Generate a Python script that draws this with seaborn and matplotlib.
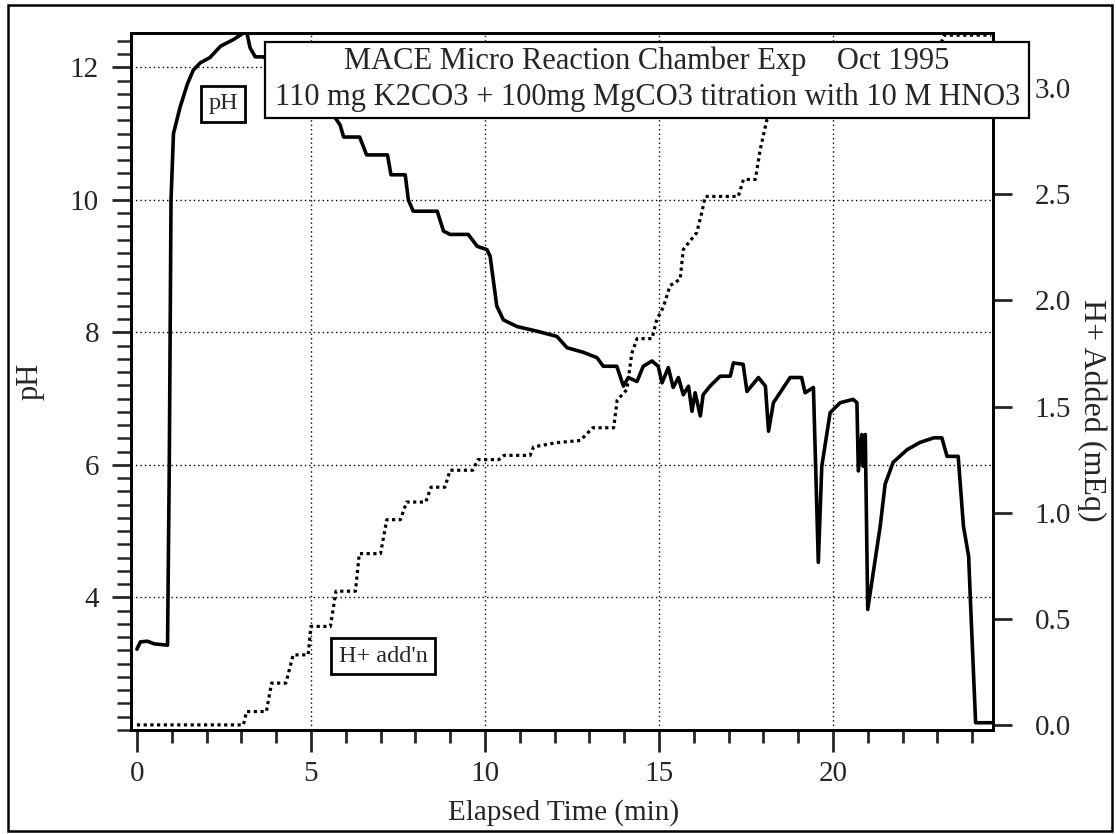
import matplotlib
matplotlib.use("Agg")
import matplotlib.pyplot as plt
import seaborn as sns
from matplotlib.patches import Rectangle
from matplotlib.ticker import MultipleLocator, FormatStrFormatter

# pH trace (time in min)
t_ph = [0.0, 0.1, 0.3, 0.5, 0.88, 0.93, 0.98, 1.05, 1.24, 1.45, 1.62, 1.82, 2.1, 2.4, 2.77,
        3.15, 3.25, 3.4, 3.63, 4.5, 5.3, 5.84, 5.94, 6.4, 6.6, 7.2, 7.3, 7.71, 7.8, 7.94,
        8.63, 8.81, 9.0, 9.52, 9.78, 10.06, 10.15, 10.34, 10.53, 10.92, 11.49, 12.07, 12.36,
        12.83, 13.22, 13.4, 13.79, 13.98, 14.12, 14.37, 14.55, 14.8, 14.98, 15.09, 15.27,
        15.41, 15.56, 15.7, 15.85, 15.95, 16.04, 16.19, 16.27, 16.47, 16.76, 17.05, 17.14,
        17.42, 17.53, 17.86, 18.06, 18.15, 18.29, 18.77, 19.1, 19.2, 19.44, 19.58, 19.68,
        19.92, 20.21, 20.58, 20.69, 20.73, 20.83, 20.87, 20.93, 21.0, 21.36, 21.5, 21.73,
        22.13, 22.5, 22.9, 23.13, 23.28, 23.6, 23.75, 23.9, 23.95, 24.1, 24.55]
ph_vals = [3.22, 3.33, 3.34, 3.30, 3.28, 6.0, 10.0, 11.0, 11.4, 11.75, 11.96, 12.07, 12.15,
           12.32, 12.42, 12.55, 12.3, 12.16, 12.16, 11.9, 11.55, 11.13, 10.95, 10.95, 10.68,
           10.68, 10.38, 10.38, 10.0, 9.83, 9.83, 9.53, 9.48, 9.48, 9.30, 9.25, 9.15, 8.40,
           8.19, 8.09, 8.02, 7.94, 7.77, 7.70, 7.62, 7.49, 7.49, 7.19, 7.32, 7.26, 7.49, 7.57,
           7.49, 7.24, 7.47, 7.17, 7.32, 7.06, 7.19, 6.81, 7.09, 6.74, 7.06, 7.19, 7.34, 7.34,
           7.54, 7.52, 7.11, 7.32, 7.19, 6.51, 6.94, 7.32, 7.32, 7.09, 7.17, 4.53, 5.98, 6.79,
           6.94, 6.99, 6.94, 5.91, 6.46, 5.98, 6.46, 3.82, 5.08, 5.71, 6.04, 6.23, 6.34, 6.41,
           6.41, 6.13, 6.13, 5.08, 4.62, 3.97, 2.11, 2.11]

# H+ added (mEq)
t_h = [0.0, 3.06, 3.15, 3.72, 3.87, 4.28, 4.49, 4.92, 5.0, 5.56, 5.72, 6.28, 6.39, 7.0,
       7.18, 7.57, 7.75, 8.3, 8.45, 8.85, 9.0, 9.65, 9.8, 10.4, 10.55, 11.3, 11.4, 12.07,
       12.74, 13.1, 13.7, 13.8, 14.08, 14.22, 14.37, 14.8, 14.94, 15.13, 15.32, 15.61, 15.7,
       16.09, 16.24, 16.33, 17.28, 17.43, 17.77, 17.91, 18.1, 19.0, 20.0, 21.0, 22.0, 23.1,
       23.2, 24.55]
h_vals = [0.0, 0.0, 0.063, 0.063, 0.197, 0.197, 0.33, 0.33, 0.464, 0.464, 0.63, 0.63, 0.807,
          0.807, 0.967, 0.967, 1.05, 1.05, 1.12, 1.12, 1.2, 1.2, 1.25, 1.25, 1.27, 1.27, 1.31,
          1.33, 1.34, 1.40, 1.40, 1.53, 1.58, 1.75, 1.82, 1.82, 1.91, 1.97, 2.07, 2.10, 2.24,
          2.32, 2.42, 2.49, 2.49, 2.57, 2.57, 2.71, 2.85, 2.95, 3.03, 3.10, 3.16, 3.21, 3.25,
          3.25]

ph_ticks = [4, 6, 8, 10, 12]
h_ticks = [0.0, 0.5, 1.0, 1.5, 2.0, 2.5, 3.0]
t_ticks = [0, 5, 10, 15, 20]

title_lines = ["MACE Micro Reaction Chamber Exp    Oct 1995",
               "110 mg K2CO3 + 100mg MgCO3 titration with 10 M HNO3"]

sns.set_style("white")
plt.rcParams['font.family'] = ['Liberation Serif', 'DejaVu Serif']

W, H = 1116, 834
fig = plt.figure(figsize=(W / 100, H / 100), dpi=100)
ax = fig.add_axes([131 / W, 1 - 730 / H, (993 - 131) / W, (730 - 33) / H])
ax2 = ax.twinx()

# grid (dotted, majors only, not at t=0)
for t in t_ticks[1:]:
    ax.axvline(t, color='black', lw=1.0, linestyle=(0, (1, 2.2)), zorder=0)
for p in ph_ticks:
    ax.axhline(p, color='black', lw=1.0, linestyle=(0, (1, 2.2)), zorder=0)

sns.lineplot(x=t_ph, y=ph_vals, ax=ax, color='black', lw=2.6,
             estimator=None, sort=False)
sns.lineplot(x=t_h, y=h_vals, ax=ax2, color='black', lw=2.3,
             linestyle=(0, (1, 1.1)), estimator=None, sort=False)

ax.set_xlim(-0.17, 24.6)
ax.set_ylim(2.0, 12.52)
ax2.set_ylim(-0.024, 3.26)

ax.set_xticks(t_ticks)
ax.xaxis.set_minor_locator(MultipleLocator(1))
ax.set_yticks(ph_ticks)
ax.yaxis.set_minor_locator(MultipleLocator(0.2))
ax2.set_yticks(h_ticks)
ax2.yaxis.set_major_formatter(FormatStrFormatter('%.1f'))

for a in (ax, ax2):
    for s in a.spines.values():
        s.set_linewidth(2.0)
        s.set_color('black')

ax.tick_params(axis='x', which='major', direction='out', length=16, width=2,
               labelsize=21, pad=6, bottom=True)
ax.tick_params(axis='x', which='minor', direction='out', length=9, width=2, bottom=True)
ax.tick_params(axis='y', which='major', direction='out', length=14, width=2,
               labelsize=21, pad=9, left=True)
ax.tick_params(axis='y', which='minor', direction='out', length=10, width=1.8, left=True)
ax2.tick_params(axis='y', which='major', direction='out', length=14, width=2,
                labelsize=21, pad=16, right=True)

ax.set_xlabel("")
ax.set_ylabel("")
ax2.set_ylabel("")

fig.text(564 / W, 1 - 813 / H, "Elapsed Time (min)", ha='center', va='center', fontsize=21)
fig.text(30 / W, 1 - 381 / H, "pH", ha='center', va='center', rotation=90, fontsize=22)
fig.text(1092 / W, 1 - 410 / H, "H+ Added (mEq)", ha='center', va='center',
         rotation=270, fontsize=23)

# title box over the top of the plot
fig.patches.append(Rectangle((265 / W, 1 - 118 / H), (1029 - 265) / W, (118 - 42) / H,
                             transform=fig.transFigure, facecolor='white',
                             edgecolor='black', lw=1.6, zorder=10))
fig.text(647 / W, 1 - 61 / H, title_lines[0], ha='center', va='center', fontsize=22, zorder=11)
fig.text(648 / W, 1 - 98 / H, title_lines[1], ha='center', va='center', fontsize=22, zorder=11)

# trace labels
box = dict(boxstyle='square,pad=0.3', facecolor='white', edgecolor='black', lw=2)
fig.text(223 / W, 1 - 104 / H, "pH", ha='center', va='center', fontsize=17.5, bbox=box, zorder=11)
fig.text(383 / W, 1 - 656 / H, "H+ add'n", ha='center', va='center', fontsize=17.5,
         bbox=box, zorder=11)

# outer frame
fig.patches.append(Rectangle((8 / W, 1 - 831 / H), (1112 - 8) / W, (831 - 5) / H,
                             transform=fig.transFigure, fill=False, edgecolor='black',
                             lw=1.8, zorder=12))

fig.savefig("out.png", dpi=100, facecolor='white')
